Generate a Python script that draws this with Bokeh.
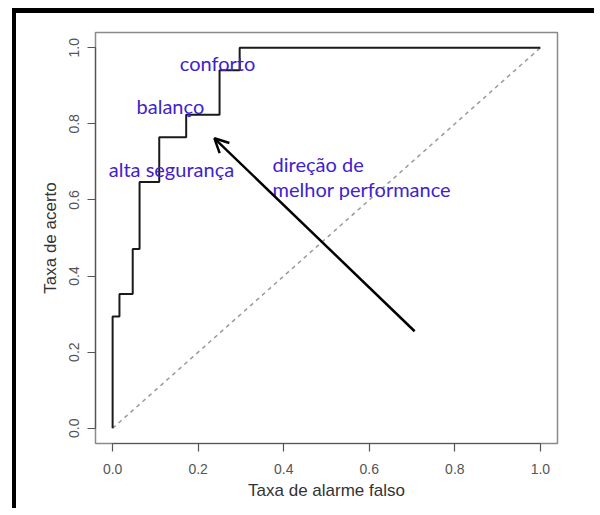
from bokeh.plotting import figure
from bokeh.models import Range1d, FixedTicker, PrintfTickFormatter, Arrow, OpenHead, ColumnDataSource
from bokeh.core.properties import value
from bokeh.embed import file_html
from bokeh.resources import INLINE

# ROC curve data (false alarm rate, hit rate) at each step
fpr = [0.0, 0.0, 0.016, 0.047, 0.063, 0.109, 0.172, 0.25, 0.297, 1.0]
tpr = [0.0, 0.294, 0.353, 0.471, 0.647, 0.765, 0.824, 0.941, 1.0, 1.0]

# chance diagonal
diag_x = [0.0, 1.0]
diag_y = [0.0, 1.0]

# arrow (start -> end) in data units
arrow_start = (0.706, 0.255)
arrow_end = (0.238, 0.762)

# annotations
label_text = ["conforto", "balanço", "alta segurança", "direção de", "melhor performance"]
label_x = [0.157, 0.056, -0.009, 0.374, 0.374]
label_y = [0.961, 0.848, 0.682, 0.695, 0.628]

ticks = [0.0, 0.2, 0.4, 0.6, 0.8, 1.0]

p = figure(width=582, height=500,
           x_range=Range1d(-0.04, 1.04), y_range=Range1d(-0.04, 1.04),
           output_backend="svg", toolbar_location=None,
           min_border_left=79, min_border_right=41, min_border_top=19, min_border_bottom=70)
p.styles = {"border-left": "4px solid black", "border-top": "5px solid black",
            "margin-left": "12px", "margin-top": "8px"}

p.grid.visible = False
p.background_fill_color = "white"
p.border_fill_color = "white"
p.outline_line_color = "#8a8a8a"
p.outline_line_width = 1.5

for ax in (p.xaxis[0], p.yaxis[0]):
    ax.ticker = FixedTicker(ticks=ticks)
    ax.formatter = PrintfTickFormatter(format="%.1f")
    ax.bounds = (0, 1)
    ax.axis_line_color = "#555555"
    ax.axis_line_width = 1.2
    ax.major_tick_line_color = "#555555"
    ax.major_tick_line_width = 1.2
    ax.major_tick_out = 8
    ax.major_tick_in = 0
    ax.minor_tick_line_color = None
    ax.major_label_text_font = "Liberation Sans"
    ax.major_label_text_font_size = "14px"
    ax.major_label_text_color = "#555555"
    ax.axis_label_text_font = "Liberation Sans"
    ax.axis_label_text_font_size = "17px"
    ax.axis_label_text_font_style = "normal"
    ax.axis_label_text_color = "#333333"

p.xaxis.axis_label = "Taxa de alarme falso"
p.yaxis.axis_label = "Taxa de acerto"
p.yaxis.major_label_orientation = "vertical"
p.xaxis.major_label_standoff = 12
p.yaxis.major_label_standoff = 8
p.xaxis.axis_label_standoff = 4
p.yaxis.axis_label_standoff = 7

# diagonal
p.line(diag_x, diag_y, line_color="#999999", line_width=1.5, line_dash="4 4")

# ROC step curve
p.step(fpr, tpr, mode="after", line_color="#1a1a1a", line_width=2)

# arrow
p.add_layout(Arrow(x_start=arrow_start[0], y_start=arrow_start[1],
                   x_end=arrow_end[0], y_end=arrow_end[1],
                   line_color="black", line_width=2.5,
                   end=OpenHead(size=14, line_width=2.5, line_color="black")))

src = ColumnDataSource(dict(x=label_x, y=label_y, t=label_text))
p.text(x="x", y="y", text="t", source=src, text_font=value("Lato"),
       text_font_size="20px", text_color="#3f22cc",
       text_align="left", text_baseline="middle")

open("out.html", "w").write(file_html(p, INLINE))
